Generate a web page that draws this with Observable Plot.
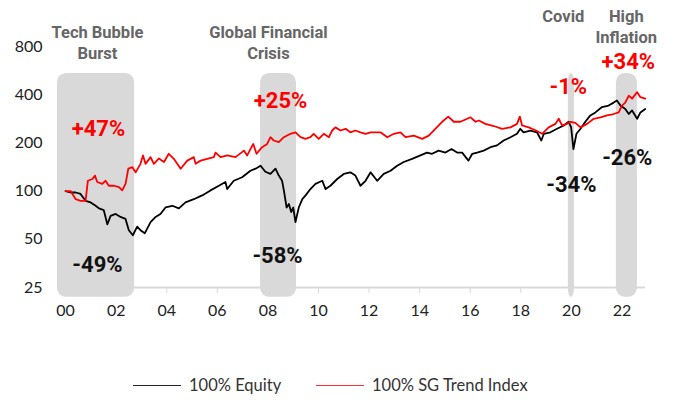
<!DOCTYPE html>
<html><head><meta charset="utf-8">
<script src="https://cdn.jsdelivr.net/npm/d3@7"></script>
<script src="https://cdn.jsdelivr.net/npm/@observablehq/plot@0.6"></script>
<style>
body{margin:0;background:#fff;}
#chart{width:673px;height:400px;position:relative;background:#fff;}
.legend{position:absolute;top:376px;left:0;width:673px;height:18px;font:16.5px Lato,sans-serif;color:#333;}
.item{position:absolute;top:0;display:flex;align-items:center;height:18px;white-space:nowrap;}
.sw{display:inline-block;width:48px;height:0;border-top:1.5px solid;margin-right:8px;}
</style></head><body><div id="chart"></div>
<script>
// Series values: [year, index level]
const equity = [[2000.00,100],[2000.20,98],[2000.40,98],[2000.59,96],[2000.79,87],[2000.99,85],[2001.19,81],[2001.32,78],[2001.51,76],[2001.65,62],[2001.78,70],[2001.98,72],[2002.17,69],[2002.37,67],[2002.50,57],[2002.66,53],[2002.83,60],[2002.96,57],[2003.13,54.5],[2003.36,64],[2003.56,69],[2003.75,72],[2003.95,79],[2004.22,81],[2004.48,78],[2004.74,85],[2005.07,89],[2005.40,94],[2005.73,101],[2006.06,108],[2006.32,114],[2006.39,103],[2006.65,116],[2006.98,122],[2007.31,134],[2007.51,138],[2007.71,144],[2007.90,132],[2008.10,128],[2008.30,138],[2008.43,125],[2008.56,116],[2008.63,101],[2008.74,79],[2008.83,83],[2008.92,74],[2009.00,79],[2009.09,64],[2009.22,79],[2009.36,89],[2009.49,94],[2009.68,103],[2009.88,111],[2010.15,116],[2010.28,103],[2010.47,108],[2010.74,119],[2011.00,128],[2011.26,131],[2011.46,125],[2011.66,108],[2011.86,116],[2012.06,131],[2012.32,116],[2012.58,128],[2012.85,134],[2013.11,144],[2013.37,152],[2013.70,159],[2014.03,167],[2014.29,174],[2014.49,171],[2014.75,179],[2015.02,174],[2015.26,183],[2015.48,174],[2015.68,174],[2015.93,155],[2016.08,171],[2016.27,174],[2016.53,179],[2016.80,188],[2017.06,193],[2017.32,207],[2017.59,217],[2017.85,228],[2017.98,245],[2018.11,233],[2018.38,239],[2018.64,233],[2018.81,207],[2018.91,228],[2019.17,233],[2019.43,245],[2019.70,257],[2019.89,271],[2019.99,250],[2020.08,183],[2020.20,228],[2020.36,245],[2020.55,271],[2020.75,297],[2020.95,310],[2021.21,335],[2021.47,342],[2021.67,357],[2021.80,368],[2021.94,342],[2022.13,326],[2022.27,303],[2022.40,319],[2022.60,283],[2022.73,310],[2022.92,326]];
const trend = [[2000.00,100],[2000.20,100],[2000.40,89],[2000.59,87],[2000.79,87],[2000.88,116],[2001.06,119],[2001.16,125],[2001.25,114],[2001.45,111],[2001.58,116],[2001.71,108],[2001.91,108],[2002.11,106],[2002.24,101],[2002.37,111],[2002.48,138],[2002.64,141],[2002.77,131],[2002.96,148],[2003.06,167],[2003.16,148],[2003.36,163],[2003.49,148],[2003.69,160],[2003.89,152],[2004.08,171],[2004.28,159],[2004.55,138],[2004.81,155],[2005.07,163],[2005.14,148],[2005.34,155],[2005.60,159],[2005.86,163],[2005.93,174],[2006.13,163],[2006.39,167],[2006.72,163],[2007.05,179],[2007.18,167],[2007.42,197],[2007.55,171],[2007.77,188],[2007.97,197],[2008.10,217],[2008.23,207],[2008.43,202],[2008.63,217],[2008.89,228],[2009.09,233],[2009.29,217],[2009.49,212],[2009.68,217],[2009.81,228],[2010.01,212],[2010.21,228],[2010.41,217],[2010.54,239],[2010.67,250],[2010.87,239],[2011.07,245],[2011.26,233],[2011.46,239],[2011.66,233],[2011.86,228],[2012.06,233],[2012.45,233],[2012.72,217],[2012.98,228],[2013.24,233],[2013.44,217],[2013.77,222],[2014.10,212],[2014.36,222],[2014.62,245],[2014.89,271],[2015.13,292],[2015.35,271],[2015.61,271],[2015.88,283],[2016.01,289],[2016.21,271],[2016.34,276],[2016.60,263],[2016.93,255],[2017.26,245],[2017.59,250],[2017.85,263],[2017.96,292],[2018.05,257],[2018.31,250],[2018.58,240],[2018.84,228],[2019.10,250],[2019.37,263],[2019.50,283],[2019.63,257],[2019.83,263],[2019.96,271],[2020.16,267],[2020.36,250],[2020.62,263],[2020.88,283],[2021.15,289],[2021.41,297],[2021.67,303],[2021.87,310],[2022.00,342],[2022.13,357],[2022.27,395],[2022.40,378],[2022.60,415],[2022.73,386],[2022.92,378]];

// Crisis periods
const crisisTitles = ["Tech Bubble\nBurst", "Global Financial\nCrisis", "Covid", "High\nInflation"];
const crisisStart = [1999.68, 2007.71, 2019.88, 2021.78];
const crisisEnd = [2002.73, 2009.13, 2020.12, 2022.61];
const equityChange = ["-49%", "-58%", "-34%", "-26%"];
const trendChange = ["+47%", "+25%", "-1%", "+34%"];
// annotation anchors (year, level)
const titleAt = [[2001.26, 853], [2008.02, 853], [2019.68, 1249], [2022.17, 1074]];
const trendLabelAt = [[2001.30, 246], [2008.50, 368], [2019.88, 450], [2022.25, 636]];
const equityLabelAt = [[2001.26, 34.8], [2008.38, 39.6], [2020.0, 110], [2022.21, 160]];

// Axis ticks
const yTicks = [25, 50, 100, 200, 400, 800];
const xTicks = [2000, 2002, 2004, 2006, 2008, 2010, 2012, 2014, 2016, 2018, 2020, 2022];
const xTickLabels = ["00", "02", "04", "06", "08", "10", "12", "14", "16", "18", "20", "22"];
const seriesNames = ["100% Equity", "100% SG Trend Index"];

const crises = crisisTitles.map((t, i) => ({
  title: t, start: crisisStart[i], end: crisisEnd[i],
  eq: equityChange[i], tr: trendChange[i],
  tx: titleAt[i][0], ty: titleAt[i][1],
  rx: trendLabelAt[i][0], ry: trendLabelAt[i][1],
  ex: equityLabelAt[i][0], ey: equityLabelAt[i][1]
}));
const eqData = equity.map(([year, value]) => ({year, value}));
const trData = trend.map(([year, value]) => ({year, value}));

const narrow = "Roboto, sans-serif";

const chart = Plot.plot({
  width: 673, height: 330,
  marginLeft: 57, marginRight: 28, marginTop: 46, marginBottom: 43,
  x: {domain: [1999.68, 2022.93]},
  y: {type: "log", domain: [25, 800], axis: null},
  style: {fontFamily: "Lato", fontSize: "16px", background: "#fff", overflow: "visible"},
  marks: [
    Plot.ruleY([25], {stroke: "#d9d9d9", strokeWidth: 2}),
    Plot.axisX({ticks: xTicks, tickFormat: d => xTickLabels[xTicks.indexOf(d)], tickSize: 6, tickPadding: 11, stroke: "#d9d9d9", fill: "#222", label: null, fontSize: 16}),
    Plot.text(yTicks, {y: d => d, text: d => String(d), frameAnchor: "left", textAnchor: "end", dx: -15, fill: "#222", fontSize: 16}),
    Plot.rect(crises, {x1: "start", x2: "end", y1: 21.7, y2: 543, rx: 9, fill: "#d9d9d9"}),
    Plot.line(eqData, {x: "year", y: "value", stroke: "#000", strokeWidth: 1.8}),
    Plot.line(trData, {x: "year", y: "value", stroke: "#ff0000", strokeWidth: 1.8}),
    Plot.text(crises, {x: "tx", y: "ty", text: "title", fontFamily: narrow, fontWeight: "bold", fontSize: 16.5, fill: "#666", lineHeight: 1.27, lineAnchor: "middle"}),
    Plot.text(crises, {x: "rx", y: "ry", text: "tr", fontFamily: narrow, fontWeight: "bold", fontSize: 22, fill: "#ff0000", lineAnchor: "middle"}),
    Plot.text(crises, {x: "ex", y: "ey", text: "eq", fontFamily: narrow, fontWeight: "bold", fontSize: 22, fill: "#111", lineAnchor: "middle"})
  ]
});
const root = document.getElementById("chart");
root.appendChild(chart);
const legend = document.createElement("div");
legend.className = "legend";
const colors = ["#222", "#ff3333"];
const lefts = [133, 316];
seriesNames.forEach((name, i) => {
  const item = document.createElement("div");
  item.className = "item";
  item.style.left = lefts[i] + "px";
  const sw = document.createElement("span");
  sw.className = "sw";
  sw.style.borderTopColor = colors[i];
  item.appendChild(sw);
  item.appendChild(document.createTextNode(name));
  legend.appendChild(item);
});
root.appendChild(legend);
</script></body></html>
